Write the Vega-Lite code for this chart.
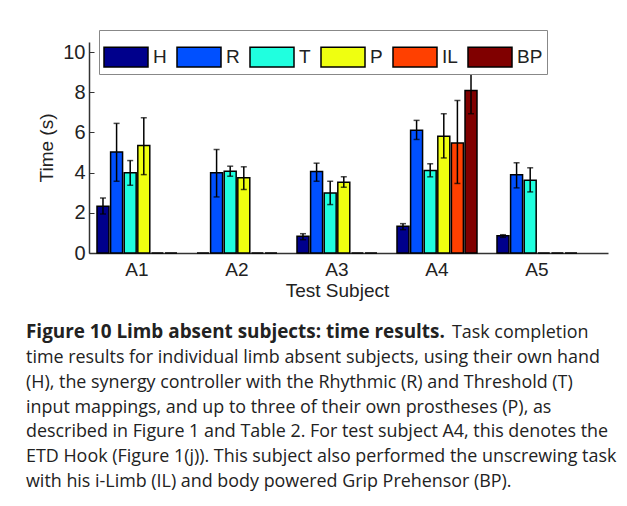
{
  "$schema": "https://vega.github.io/schema/vega-lite/v6.json",
  "padding": {"left": 26, "top": 29, "right": 0, "bottom": 0},
  "background": "white",
  "spacing": 23,
  "config": {
    "view": {"stroke": null},
    "font": "Liberation Sans"
  },
  "datasets": {
    "bars": [
      {"subject": "A1", "cond": "H", "time": 2.33, "lo": 1.94, "hi": 2.74},
      {"subject": "A1", "cond": "R", "time": 5.02, "lo": 3.57, "hi": 6.45},
      {"subject": "A1", "cond": "T", "time": 3.99, "lo": 3.37, "hi": 4.6},
      {"subject": "A1", "cond": "P", "time": 5.35, "lo": 3.9, "hi": 6.73},
      {"subject": "A1", "cond": "IL", "time": 0},
      {"subject": "A1", "cond": "BP", "time": 0},
      {"subject": "A2", "cond": "H", "time": 0},
      {"subject": "A2", "cond": "R", "time": 3.99, "lo": 2.79, "hi": 5.15},
      {"subject": "A2", "cond": "T", "time": 4.07, "lo": 3.82, "hi": 4.32},
      {"subject": "A2", "cond": "P", "time": 3.74, "lo": 3.16, "hi": 4.29},
      {"subject": "A2", "cond": "IL", "time": 0},
      {"subject": "A2", "cond": "BP", "time": 0},
      {"subject": "A3", "cond": "H", "time": 0.83, "lo": 0.66, "hi": 0.96},
      {"subject": "A3", "cond": "R", "time": 4.05, "lo": 3.57, "hi": 4.47},
      {"subject": "A3", "cond": "T", "time": 2.99, "lo": 2.41, "hi": 3.57},
      {"subject": "A3", "cond": "P", "time": 3.52, "lo": 3.27, "hi": 3.79},
      {"subject": "A3", "cond": "IL", "time": 0},
      {"subject": "A3", "cond": "BP", "time": 0},
      {"subject": "A4", "cond": "H", "time": 1.33, "lo": 1.16, "hi": 1.46},
      {"subject": "A4", "cond": "R", "time": 6.11, "lo": 5.65, "hi": 6.6},
      {"subject": "A4", "cond": "T", "time": 4.1, "lo": 3.79, "hi": 4.44},
      {"subject": "A4", "cond": "P", "time": 5.81, "lo": 4.73, "hi": 6.93},
      {"subject": "A4", "cond": "IL", "time": 5.48, "lo": 3.46, "hi": 7.59},
      {"subject": "A4", "cond": "BP", "time": 8.09, "lo": 6.93, "hi": 9.22},
      {"subject": "A5", "cond": "H", "time": 0.86, "lo": 0.78, "hi": 0.91},
      {"subject": "A5", "cond": "R", "time": 3.9, "lo": 3.24, "hi": 4.49},
      {"subject": "A5", "cond": "T", "time": 3.62, "lo": 3.04, "hi": 4.24},
      {"subject": "A5", "cond": "P", "time": 0},
      {"subject": "A5", "cond": "IL", "time": 0},
      {"subject": "A5", "cond": "BP", "time": 0}
    ],
    "caption": [
      {"line": 1, "part": "head", "text": "Figure 10 Limb absent subjects: time results."},
      {"line": 1, "part": "tail", "text": "Task completion"},
      {"line": 2, "part": "body", "text": "time results for individual limb absent subjects, using their own hand"},
      {"line": 3, "part": "body", "text": "(H), the synergy controller with the Rhythmic (R) and Threshold (T)"},
      {"line": 4, "part": "body", "text": "input mappings, and up to three of their own prostheses (P), as"},
      {"line": 5, "part": "body", "text": "described in Figure 1 and Table 2. For test subject A4, this denotes the"},
      {"line": 6, "part": "body", "text": "ETD Hook (Figure 1(j)). This subject also performed the unscrewing task"},
      {"line": 7, "part": "body", "text": "with his i-Limb (IL) and body powered Grip Prehensor (BP)."}
    ]
  },
  "vconcat": [
    {
      "width": 519,
      "height": 211,
      "data": {"name": "bars"},
      "encoding": {
        "x": {
          "field": "subject",
          "type": "nominal",
          "scale": {"paddingInner": 0.2, "paddingOuter": 0.195, "align": 0.205},
          "axis": {
            "title": "Test Subject",
            "labelAngle": 0,
            "ticks": false,
            "labelPadding": 7,
            "labelFontSize": 19,
            "labelColor": "#222",
            "titleFontSize": 19,
            "titleFontWeight": "normal",
            "titleColor": "#222",
            "titlePadding": 2,
            "titleX": 248,
            "domainColor": "#333",
            "domainWidth": 1.5
          }
        },
        "xOffset": {
          "field": "cond",
          "type": "nominal",
          "sort": ["H", "R", "T", "P", "IL", "BP"],
          "scale": {"paddingInner": 0.12, "paddingOuter": 0}
        }
      },
      "layer": [
        {
          "mark": {"type": "bar", "stroke": "black", "strokeWidth": 1.5},
          "encoding": {
            "y": {
              "field": "time",
              "type": "quantitative",
              "scale": {"domain": [0, 10.5], "nice": false},
              "axis": {
                "title": "Time (s)",
                "values": [0, 2, 4, 6, 8, 10],
                "grid": false,
                "tickSize": -5,
                "labelPadding": 9,
                "labelFontSize": 20,
                "labelColor": "#222",
                "titleFontSize": 19,
                "titleFontWeight": "normal",
                "titleColor": "#222",
                "titlePadding": 6,
                "domainColor": "#333",
                "tickColor": "#333",
                "domainWidth": 1.5
              }
            },
            "fill": {
              "field": "cond",
              "type": "nominal",
              "sort": ["H", "R", "T", "P", "IL", "BP"],
              "scale": {
                "domain": ["H", "R", "T", "P", "IL", "BP"],
                "range": ["#00008C", "#0050FF", "#20FFDF", "#EFFF10", "#FF4000", "#800000"]
              },
              "legend": {
                "title": null,
                "orient": "none",
                "legendX": 10,
                "legendY": -12,
                "direction": "horizontal",
                "columns": 6,
                "symbolType": "M-1,-0.45H1V0.45H-1Z",
                "symbolSize": 1936,
                "symbolStrokeColor": "black",
                "symbolStrokeWidth": 1.5,
                "labelFontSize": 19,
                "labelColor": "#222",
                "labelOffset": 4,
                "columnPadding": 7,
                "padding": 4,
                "strokeColor": "#888",
                "fillColor": "white"
              }
            }
          }
        },
        {
          "transform": [{"filter": "datum.lo != null"}],
          "mark": {"type": "rule", "color": "black", "strokeWidth": 1.5},
          "encoding": {
            "y": {"field": "lo", "type": "quantitative"},
            "y2": {"field": "hi"}
          }
        },
        {
          "transform": [{"filter": "datum.lo != null"}],
          "mark": {"type": "tick", "color": "black", "thickness": 1.5, "size": 6},
          "encoding": {"y": {"field": "lo", "type": "quantitative"}}
        },
        {
          "transform": [{"filter": "datum.lo != null"}],
          "mark": {"type": "tick", "color": "black", "thickness": 1.5, "size": 6},
          "encoding": {"y": {"field": "hi", "type": "quantitative"}}
        }
      ]
    },
    {
      "width": 500,
      "height": 173,
      "data": {"name": "caption"},
      "encoding": {
        "x": {"datum": 0, "type": "quantitative", "scale": {"domain": [0, 1]}, "axis": null},
        "y": {"field": "line", "type": "ordinal", "axis": null},
        "text": {"field": "text"}
      },
      "layer": [
        {
          "transform": [{"filter": "datum.part == 'head'"}],
          "mark": {"type": "text", "align": "left", "baseline": "alphabetic", "font": "Open Sans", "fontSize": 18.9, "fontWeight": "bold", "color": "#222", "dx": -63}
        },
        {
          "transform": [{"filter": "datum.part == 'tail'"}],
          "mark": {"type": "text", "align": "left", "baseline": "alphabetic", "font": "Open Sans", "fontSize": 17.9, "color": "#222", "dx": 363}
        },
        {
          "transform": [{"filter": "datum.part == 'body'"}],
          "mark": {"type": "text", "align": "left", "baseline": "alphabetic", "font": "Open Sans", "fontSize": 17.9, "color": "#222", "dx": -63}
        }
      ]
    }
  ]
}
